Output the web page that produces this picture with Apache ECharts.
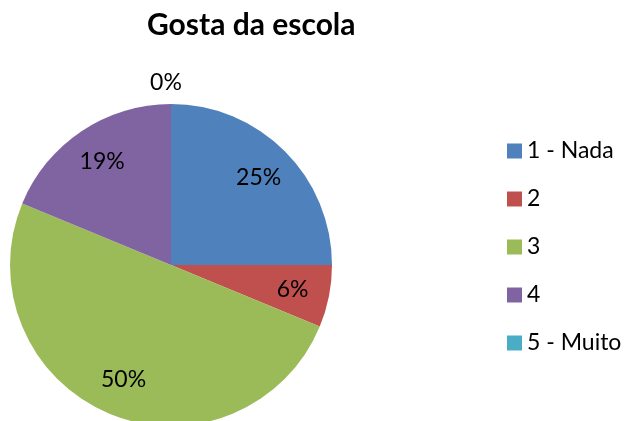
<!DOCTYPE html>
<html>
<head>
<meta charset="utf-8">
<title>Gosta da escola</title>
<script src="https://cdn.jsdelivr.net/npm/echarts@6/dist/echarts.min.js"></script>
<style>
    html, body { margin: 0; padding: 0; background: #fff; }
    #chart { width: 626px; height: 421px; }
</style>
</head>
<body>
<div id="chart"></div>
<script>
// dados: 16 respostas
var categories = ['1 - Nada', '2', '3', '4', '5 - Muito'];
var counts = [4, 1, 8, 3, 0];
var colors = ['#4F81BD', '#C0504D', '#9BBB59', '#8064A2', '#4BACC6'];

var fontFamily = 'Lato, "Open Sans", sans-serif';

var pieData = categories.map(function(name, i){
    return { name: name, value: counts[i] };
});

// labels: series transparente, rótulo no meio do anel [81,161]
var labelData = categories.map(function(name, i){
    var item = { name: name, value: counts[i] };
    if(counts[i] === 0){
        item.label = { position: 'outside' };
    }
    return item;
});

var myChart = echarts.init(document.getElementById('chart'));
var option = {
    animation: false,
    color: colors,
    title: {
        text: 'Gosta da escola',
        left: 142,
        top: 5,
        textStyle: { fontFamily: fontFamily, fontSize: 30, fontWeight: 'bold', color: '#000' }
    },
    legend: {
        orient: 'vertical',
        left: 502,
        top: 134,
        itemWidth: 15,
        itemHeight: 15,
        itemGap: 24,
        icon: 'rect',
        data: categories,
        textStyle: { fontFamily: fontFamily, fontSize: 23, lineHeight: 24, color: '#000' }
    },
    series: [
        {
            type: 'pie',
            center: [171, 265],
            radius: [0, 161],
            startAngle: 90,
            clockwise: true,
            label: { show: false },
            labelLine: { show: false },
            emphasis: { disabled: true },
            data: pieData
        },
        {
            type: 'pie',
            center: [171, 265],
            radius: [81, 161],
            startAngle: 90,
            clockwise: true,
            silent: true,
            legendHoverLink: false,
            itemStyle: { color: 'rgba(0,0,0,0)' },
            label: {
                show: true,
                position: 'inside',
                color: '#000',
                fontFamily: fontFamily,
                fontSize: 23,
                formatter: function(p){ return Math.round(p.percent) + '%'; }
            },
            labelLine: { show: false, length: 10, length2: 0 },
            labelLayout: function(p){
                if(p.dataIndex === 4){
                    return { align: 'center', verticalAlign: 'bottom' };
                }
            },
            emphasis: { disabled: true },
            data: labelData
        }
    ]
};
myChart.setOption(option);
</script>
</body>
</html>
